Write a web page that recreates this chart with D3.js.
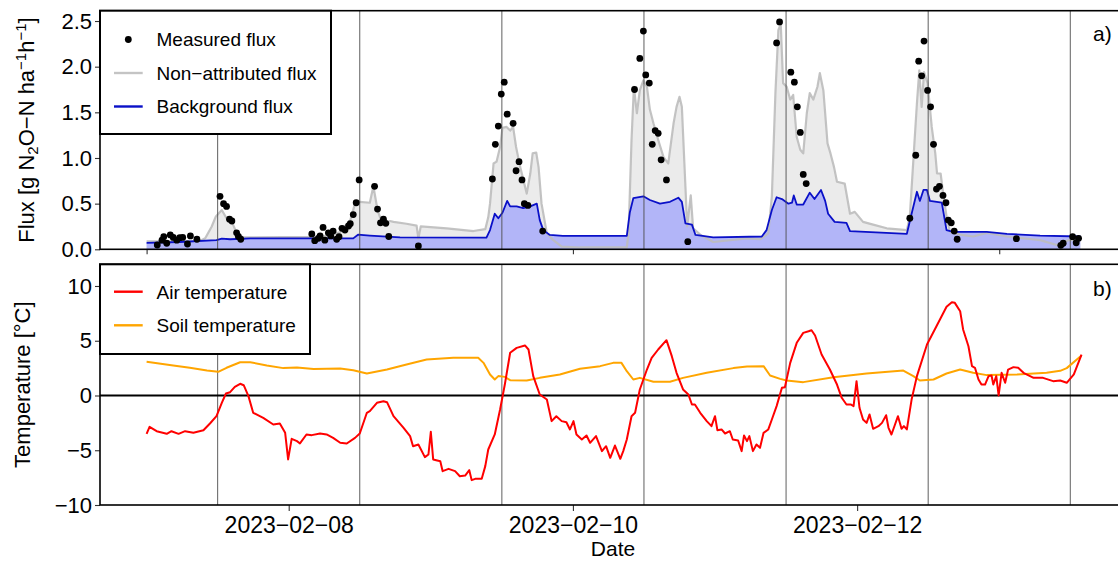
<!DOCTYPE html>
<html>
<head>
<meta charset="utf-8">
<script src="https://cdn.jsdelivr.net/npm/d3@7"></script>
<style>
  body { margin: 0; background: #fff; }
  svg { display: block; }
  text { font-family: Arial, "Liberation Sans", sans-serif; fill: #000; }
</style>
</head>
<body>
<svg id="chart" width="1118" height="562"></svg>
<script>
// Series are stored as [hours since 2023-02-07 00:00 UTC, value]
const seriesStart = Date.UTC(2023, 1, 7, 0, 0);
const hoursToDate = h => new Date(seriesStart + h * 3600e3);

const measuredFlux = [
  [1.8,0.047],[2.6,0.10],[2.9,0.138],[3.4,0.066],[4.0,0.157],[4.5,0.13],[5.1,0.10],[5.6,0.127],
  [6.1,0.13],[6.9,0.058],[7.4,0.146],[8.5,0.11],[12.4,0.58],[13.0,0.50],[13.5,0.47],[14.0,0.33],
  [14.4,0.31],[15.2,0.18],[15.5,0.14],[15.9,0.11],[27.9,0.168],[28.4,0.094],[29.0,0.12],[29.3,0.146],
  [29.8,0.24],[30.1,0.10],[30.7,0.18],[31.1,0.146],[31.5,0.20],[32.1,0.11],[32.5,0.138],[33.0,0.23],
  [33.5,0.21],[34.1,0.255],[34.4,0.28],[34.9,0.38],[35.4,0.51],[35.9,0.76],[38.5,0.69],[39.0,0.44],
  [39.5,0.29],[40.0,0.33],[40.4,0.285],[40.9,0.14],[45.9,0.036],[58.4,0.77],[58.9,1.15],[59.4,1.35],
  [59.9,1.70],[60.4,1.83],[60.9,1.48],[61.9,1.38],[62.4,0.86],[62.9,0.96],[63.4,0.76],[63.8,0.50],
  [64.4,0.48],[66.9,0.20],[82.4,1.75],[83.3,2.09],[83.9,2.39],[84.3,1.91],[84.9,1.82],[85.4,1.15],
  [85.9,1.30],[86.4,1.27],[86.9,0.98],[87.8,0.76],[91.4,0.083],[106.4,2.26],[106.9,2.49],[108.8,1.94],
  [109.4,1.83],[109.9,1.56],[110.4,1.28],[110.9,0.82],[111.4,0.72],[128.9,0.34],[129.9,1.03],[130.4,2.06],
  [130.9,1.90],[131.3,2.28],[131.9,1.74],[132.4,1.56],[132.9,1.15],[133.4,0.66],[133.9,0.69],[134.5,0.59],
  [135.0,0.51],[135.4,0.32],[135.9,0.29],[136.4,0.20],[136.9,0.11],[146.9,0.116],[154.4,0.044],[154.8,0.066],
  [156.4,0.138],[157.0,0.072],[157.4,0.12]
];

const nonAttributedFlux = [
  [0,0.088],[9.0,0.09],[9.9,0.12],[11.0,0.25],[11.7,0.36],[12.7,0.43],[13.5,0.34],[14.4,0.30],
  [15.2,0.18],[16.3,0.13],[27.6,0.135],[29.5,0.14],[31.0,0.15],[32.7,0.19],[34.4,0.32],[35.2,0.50],
  [36.0,0.52],[37.7,0.51],[38.3,0.69],[39.0,0.43],[39.7,0.30],[40.6,0.29],[41.1,0.31],[41.7,0.30],
  [43.9,0.28],[45.6,0.26],[45.9,0.12],[46.3,0.25],[50.7,0.23],[55.2,0.20],[57.2,0.22],[57.7,0.35],
  [58.0,0.50],[58.6,0.94],[59.1,0.96],[59.7,1.12],[60.1,1.33],[60.8,1.34],[61.4,1.30],[61.9,1.34],
  [62.4,1.12],[63.1,0.90],[64.2,0.61],[64.8,0.83],[65.2,1.05],[65.8,1.06],[66.2,0.90],[66.7,0.50],
  [67.6,0.175],[68.7,0.10],[70.1,0.03],[73.2,0.02],[81.1,0.02],[81.4,0.18],[81.9,1.20],[82.3,1.78],
  [82.8,1.49],[83.3,1.74],[83.9,1.85],[84.5,1.78],[85.0,1.53],[85.6,1.38],[86.4,1.20],[87.3,1.01],
  [88.1,0.94],[89.0,1.38],[89.5,1.56],[90.0,1.67],[90.4,1.56],[91.0,0.69],[91.3,0.25],[91.9,0.59],
  [92.3,0.23],[93.5,0.16],[95.7,0.08],[101.4,0.12],[103.6,0.11],[105.0,0.175],[105.6,0.58],[106.2,1.71],
  [106.7,2.40],[107.1,2.47],[107.5,1.82],[108.1,1.78],[108.7,1.64],[109.2,1.69],[109.8,1.23],[110.4,1.09],
  [110.9,1.05],[111.5,1.49],[112.0,1.71],[112.6,1.64],[113.3,1.78],[113.7,1.93],[114.3,1.74],[115.0,1.16],
  [115.5,1.05],[116.1,0.90],[116.6,0.74],[117.9,0.72],[118.8,0.39],[119.6,0.41],[121.0,0.30],[122.7,0.27],
  [125.0,0.23],[128.4,0.21],[128.9,0.36],[129.5,0.98],[130.1,1.60],[130.5,1.96],[130.9,1.56],[131.3,1.94],
  [131.9,1.82],[132.6,1.34],[133.2,1.05],[133.5,0.83],[134.1,0.83],[134.6,0.58],[135.1,0.36],[135.7,0.19],
  [137.4,0.16],[139.6,0.14],[141.9,0.18],[145.3,0.14],[150.9,0.10],[153.7,0.047],[155.7,0.10],[157.7,0.10]
];

const backgroundFlux = [
  [0,0.07],[5.6,0.08],[11.8,0.10],[12.7,0.116],[14.1,0.11],[17.5,0.12],[25.9,0.12],[34.9,0.12],
  [35.7,0.16],[37.7,0.15],[42.8,0.13],[57.4,0.127],[58.0,0.21],[58.8,0.39],[59.4,0.34],[60.1,0.40],
  [60.9,0.53],[61.4,0.47],[62.5,0.47],[63.6,0.45],[64.8,0.47],[65.9,0.50],[66.4,0.32],[67.0,0.21],
  [68.1,0.157],[70.3,0.146],[81.1,0.146],[81.6,0.40],[82.2,0.56],[83.9,0.58],[85.0,0.54],[86.7,0.50],
  [88.4,0.52],[89.8,0.565],[90.4,0.52],[91.0,0.285],[92.1,0.27],[92.7,0.157],[95.7,0.13],[103.9,0.14],
  [104.7,0.21],[105.6,0.43],[106.4,0.57],[107.3,0.55],[108.4,0.50],[109.0,0.51],[109.3,0.59],[109.8,0.49],
  [110.9,0.49],[112.0,0.62],[112.8,0.55],[113.9,0.65],[114.6,0.53],[115.1,0.39],[116.2,0.30],[118.2,0.29],
  [118.8,0.20],[128.4,0.17],[129.2,0.39],[130.1,0.63],[130.6,0.53],[131.2,0.65],[131.8,0.65],[132.3,0.53],
  [134.3,0.51],[135.1,0.21],[136.2,0.19],[141.9,0.19],[145.3,0.17],[150.9,0.15],[157.7,0.14]
];

const airTemperature = [
  [0,-3.50],[0.5,-2.86],[1.7,-3.26],[3.4,-3.50],[4.2,-3.26],[5.4,-3.50],[6.5,-3.26],[7.9,-3.41],
  [9.6,-3.17],[10.7,-2.56],[11.8,-1.89],[12.7,-0.67],[13.4,0.18],[14.1,0.30],[14.9,0.79],[15.8,1.07],
  [16.4,0.94],[17.2,-0.06],[18.0,-1.58],[19.7,-2.04],[21.4,-2.65],[22.5,-2.56],[23.4,-3.41],[23.9,-5.84],
  [24.5,-3.96],[25.4,-4.17],[25.9,-4.38],[27.0,-3.56],[27.9,-3.62],[29.3,-3.47],[30.4,-3.56],[31.5,-3.87],
  [32.7,-4.32],[33.8,-4.38],[35.2,-3.87],[36.0,-3.47],[37.2,-1.58],[37.7,-1.43],[38.9,-0.67],[40.0,-0.52],
  [40.6,-0.61],[41.7,-1.89],[43.4,-2.95],[44.5,-3.71],[45.0,-4.63],[45.9,-4.47],[47.0,-5.63],[47.6,-5.39],
  [48.0,-3.32],[48.4,-5.84],[49.6,-6.00],[50.0,-6.91],[51.0,-6.70],[52.1,-6.91],[52.9,-7.37],[53.8,-7.31],
  [54.5,-6.82],[54.9,-7.73],[55.5,-7.61],[56.6,-7.61],[57.2,-6.45],[57.7,-4.93],[58.8,-3.56],[59.7,-1.28],
  [60.5,1.00],[61.4,3.90],[62.5,4.35],[63.9,4.57],[64.5,4.20],[65.3,1.77],[66.4,0.09],[67.6,-0.37],
  [68.4,-2.34],[69.2,-1.89],[70.1,-2.34],[70.9,-2.44],[71.5,-3.10],[72.1,-2.34],[72.6,-3.56],[73.5,-4.02],
  [74.3,-3.65],[74.9,-4.32],[75.9,-3.71],[76.9,-5.08],[77.6,-4.63],[78.3,-5.69],[79.1,-4.57],[80.0,-5.78],
  [80.5,-5.08],[81.1,-4.02],[81.9,-1.89],[82.5,-1.58],[83.3,0.55],[84.5,2.37],[85.3,3.44],[86.4,4.20],
  [87.8,5.05],[88.7,3.59],[89.5,2.07],[90.6,0.55],[91.5,0.09],[92.1,-0.82],[92.6,-0.82],[93.5,-1.58],
  [94.6,-2.34],[95.4,-2.80],[96.0,-1.89],[96.4,-3.17],[97.1,-3.10],[97.7,-3.47],[98.5,-3.26],[99.0,-4.02],
  [99.9,-4.11],[100.5,-5.08],[100.9,-3.65],[101.4,-4.17],[101.8,-3.71],[102.4,-5.08],[103.0,-4.47],[103.6,-4.78],
  [104.2,-3.41],[105.0,-3.10],[105.6,-2.19],[106.4,-0.97],[107.3,0.70],[107.8,0.76],[108.7,2.98],[109.8,4.81],
  [110.9,5.72],[111.8,5.87],[112.3,5.96],[112.9,5.48],[114.0,3.74],[115.4,2.37],[116.6,1.00],[117.4,-0.21],
  [118.2,-0.82],[118.9,-0.82],[119.4,-0.97],[119.9,1.31],[120.4,-1.12],[121.0,-2.19],[121.6,-2.50],[122.1,-1.73],
  [122.7,-3.04],[123.6,-2.80],[124.2,-2.50],[124.9,-1.80],[125.3,-2.95],[125.8,-3.56],[126.4,-2.65],[126.9,-1.89],
  [127.5,-3.04],[127.9,-2.80],[128.4,-3.10],[129.2,-0.37],[130.1,1.77],[131.8,4.66],[133.4,6.33],[135.1,8.10],
  [136.0,8.52],[136.5,8.46],[137.4,7.70],[137.9,6.03],[138.8,4.50],[139.4,2.68],[139.9,2.53],[140.5,1.46],
  [141.0,1.00],[141.6,1.00],[142.2,1.77],[142.7,1.83],[143.0,1.00],[143.5,1.77],[143.9,0.0],[144.4,2.07],
  [145.0,1.16],[145.5,2.37],[146.4,2.59],[147.2,2.53],[148.1,2.07],[149.8,1.61],[151.4,1.61],[153.1,1.31],
  [154.3,1.37],[155.4,1.16],[156.6,1.92],[157.9,3.74]
];

const soilTemperature = [
  [0,3.08],[4.5,2.74],[7.3,2.53],[10.2,2.28],[12.1,2.16],[13.5,2.53],[15.8,3.04],[17.5,3.04],
  [20.3,2.74],[23.1,2.50],[25.4,2.56],[28.2,2.41],[32.7,2.47],[34.9,2.31],[37.2,2.01],[40.6,2.37],
  [43.9,2.83],[47.3,3.29],[51.8,3.44],[56.0,3.44],[56.9,2.98],[58.0,1.92],[58.8,1.46],[59.4,1.77],
  [60.5,1.70],[61.4,1.40],[64.2,1.37],[66.4,1.61],[69.8,1.92],[73.2,2.44],[76.6,2.68],[78.8,2.98],
  [80.2,2.98],[81.1,2.22],[82.2,1.46],[83.3,1.61],[85.6,1.25],[88.4,1.25],[90.6,1.61],[94.6,2.07],
  [99.1,2.50],[101.4,2.65],[104.2,2.68],[105.3,1.83],[107.0,1.52],[108.1,1.37],[110.9,1.22],[116.0,1.67],
  [121.6,2.01],[127.8,2.28],[129.5,1.77],[130.6,1.37],[132.9,1.46],[135.1,2.01],[137.4,2.37],[139.6,2.07],
  [141.9,1.86],[147.0,1.92],[152.0,2.07],[154.3,2.25],[155.4,2.50],[157.9,3.65]
];

const fluxTicks = [0, 0.5, 1.0, 1.5, 2.0, 2.5];
const tempTicks = [-10, -5, 0, 5, 10];
const topDateTicks = ["2023-02-07", "2023-02-10", "2023-02-13"];
const bottomDateTicks = ["2023-02-08", "2023-02-10", "2023-02-12"];
const noonLines = ["2023-02-07", "2023-02-08", "2023-02-09", "2023-02-10", "2023-02-11", "2023-02-12", "2023-02-13"];

const fluxLegend = ["Measured flux", "Non\u2212attributed flux", "Background flux"];
const tempLegend = ["Air temperature", "Soil temperature"];

const colors = {
  point: "#000",
  greyFill: "#ebebeb",
  greyLine: "#bdbdbd",
  blueFill: "#adb0f8",
  blueLine: "#0a10c8",
  air: "#ff0000",
  soil: "#ffa500"
};

const minus = s => String(s).replace(/-/g, "\u2212");
const parseDay = s => new Date(s + "T00:00:00Z");

const svg = d3.select("#chart");

const left = 100, right = 1126;
const topPanel = { top: 10.7, bottom: 249.3 };
const botPanel = { top: 264.3, bottom: 505 };

const x = d3.scaleUtc()
  .domain([hoursToDate(-7.87), hoursToDate(165.41)])
  .range([left, right]);

const yFlux = d3.scaleLinear().domain([0, 2.613]).range([topPanel.bottom, topPanel.top]);
const yTemp = d3.scaleLinear().domain([-10, 11.98]).range([botPanel.bottom, botPanel.top]);

const defs = svg.append("defs");
function clip(id, p) {
  defs.append("clipPath").attr("id", id)
    .append("rect").attr("x", left).attr("y", p.top)
    .attr("width", right - left).attr("height", p.bottom - p.top);
}
clip("clipTop", topPanel);
clip("clipBot", botPanel);

// ---------- Panel a: fluxes ----------
const gTop = svg.append("g").attr("clip-path", "url(#clipTop)");
const fx = d => x(hoursToDate(d[0]));

gTop.append("path").datum(nonAttributedFlux)
  .attr("fill", colors.greyFill)
  .attr("d", d3.area().x(fx).y0(yFlux(0)).y1(d => yFlux(d[1])));
gTop.append("path").datum(backgroundFlux)
  .attr("fill", colors.blueFill).attr("fill-opacity", 0.92)
  .attr("d", d3.area().x(fx).y0(yFlux(0)).y1(d => yFlux(d[1])));
gTop.append("path").datum(nonAttributedFlux)
  .attr("fill", "none").attr("stroke", colors.greyLine).attr("stroke-opacity", 0.9)
  .attr("stroke-width", 2.2).attr("stroke-linejoin", "round")
  .attr("d", d3.line().x(fx).y(d => yFlux(d[1])));
gTop.append("path").datum(backgroundFlux)
  .attr("fill", "none").attr("stroke", colors.blueLine)
  .attr("stroke-width", 1.8).attr("stroke-linejoin", "round")
  .attr("d", d3.line().x(fx).y(d => yFlux(d[1])));

// daily noon reference lines
function noonRules(g, p) {
  g.selectAll("line.noon").data(noonLines).join("line")
    .attr("class", "noon")
    .attr("x1", d => x(new Date(d + "T12:00:00Z"))).attr("x2", d => x(new Date(d + "T12:00:00Z")))
    .attr("y1", p.top).attr("y2", p.bottom)
    .attr("stroke", "#4d4d4d").attr("stroke-width", 0.9);
}
noonRules(gTop, topPanel);

gTop.selectAll("circle").data(measuredFlux).join("circle")
  .attr("cx", fx).attr("cy", d => yFlux(d[1])).attr("r", 3.4)
  .attr("fill", colors.point);

// ---------- Panel b: temperatures ----------
const gBot = svg.append("g").attr("clip-path", "url(#clipBot)");
noonRules(gBot, botPanel);
gBot.append("line")
  .attr("x1", left).attr("x2", right).attr("y1", yTemp(0)).attr("y2", yTemp(0))
  .attr("stroke", "#000").attr("stroke-width", 2.2);
gBot.append("path").datum(soilTemperature)
  .attr("fill", "none").attr("stroke", colors.soil).attr("stroke-width", 2)
  .attr("stroke-linejoin", "round")
  .attr("d", d3.line().x(fx).y(d => yTemp(d[1])));
gBot.append("path").datum(airTemperature)
  .attr("fill", "none").attr("stroke", colors.air).attr("stroke-width", 2)
  .attr("stroke-linejoin", "round")
  .attr("d", d3.line().x(fx).y(d => yTemp(d[1])));

// ---------- Axes ----------
function styleAxis(g, fontSize) {
  g.select(".domain").remove();
  g.selectAll(".tick line").attr("stroke", "#333").attr("stroke-width", 1.1);
  g.selectAll(".tick text").attr("font-size", fontSize).attr("fill", "#1a1a1a")
    .attr("font-family", "Arial, 'Liberation Sans', sans-serif");
}

svg.append("g").attr("transform", `translate(${left},0)`)
  .call(d3.axisLeft(yFlux).tickValues(fluxTicks).tickFormat(d3.format(".1f")).tickSize(5).tickPadding(3))
  .call(g => styleAxis(g, 22));

svg.append("g").attr("transform", `translate(${left},0)`)
  .call(d3.axisLeft(yTemp).tickValues(tempTicks).tickFormat(d => minus(d)).tickSize(5).tickPadding(3))
  .call(g => styleAxis(g, 22));

svg.append("g").attr("transform", `translate(0,${topPanel.bottom})`)
  .call(d3.axisBottom(x).tickValues(topDateTicks.map(parseDay)).tickFormat("").tickSize(5))
  .call(g => styleAxis(g, 22));

svg.append("g").attr("transform", `translate(0,${botPanel.bottom})`)
  .call(d3.axisBottom(x).tickValues(bottomDateTicks.map(parseDay))
    .tickFormat(d => minus(d3.utcFormat("%Y-%m-%d")(d))).tickSize(6).tickPadding(6))
  .call(g => styleAxis(g, 23));

// panel borders
[topPanel, botPanel].forEach(p => {
  svg.append("rect").attr("x", left).attr("y", p.top)
    .attr("width", right - left).attr("height", p.bottom - p.top)
    .attr("fill", "none").attr("stroke", "#000").attr("stroke-width", 1.6);
});

// ---------- Axis titles ----------
const fluxTitle = svg.append("text")
  .attr("transform", `translate(34,${(topPanel.top + topPanel.bottom) / 2}) rotate(-90)`)
  .attr("text-anchor", "middle").attr("font-size", 22);
fluxTitle.append("tspan").text("Flux [g N");
fluxTitle.append("tspan").attr("font-size", 15).attr("dy", 4).text("2");
fluxTitle.append("tspan").attr("dy", -4).text("O\u2212N ha");
fluxTitle.append("tspan").attr("font-size", 15).attr("dy", -8).text("\u22121");
fluxTitle.append("tspan").attr("dy", 8).text("h");
fluxTitle.append("tspan").attr("font-size", 15).attr("dy", -8).text("\u22121");
fluxTitle.append("tspan").attr("dy", 8).text("]");

svg.append("text")
  .attr("transform", `translate(30,${(botPanel.top + botPanel.bottom) / 2}) rotate(-90)`)
  .attr("text-anchor", "middle").attr("font-size", 22)
  .text("Temperature [\u00B0C]");

svg.append("text").attr("x", (left + right) / 2).attr("y", 556)
  .attr("text-anchor", "middle").attr("font-size", 21).text("Date");

// panel tags
svg.append("text").attr("x", 1093).attr("y", 41).attr("font-size", 21).text("a)");
svg.append("text").attr("x", 1093).attr("y", 296).attr("font-size", 21).text("b)");

// ---------- Legends ----------
function legendBox(x0, y0, w, h) {
  svg.append("rect").attr("x", x0).attr("y", y0).attr("width", w).attr("height", h)
    .attr("fill", "#fff").attr("stroke", "#000").attr("stroke-width", 2);
}

legendBox(100, 10.7, 231, 123.3);
const fluxRows = [39.5, 73, 106.5];
svg.append("circle").attr("cx", 128.3).attr("cy", fluxRows[0]).attr("r", 3.4).attr("fill", colors.point);
svg.append("line").attr("x1", 114).attr("x2", 142.7).attr("y1", fluxRows[1]).attr("y2", fluxRows[1])
  .attr("stroke", "#c4c4c4").attr("stroke-width", 2.4);
svg.append("line").attr("x1", 114).attr("x2", 142.7).attr("y1", fluxRows[2]).attr("y2", fluxRows[2])
  .attr("stroke", colors.blueLine).attr("stroke-width", 2.4);
svg.selectAll("text.fluxLeg").data(fluxLegend).join("text").attr("class", "fluxLeg")
  .attr("x", 156.5).attr("y", (d, i) => fluxRows[i]).attr("dy", "0.36em")
  .attr("font-size", 19).text(d => d);

legendBox(100, botPanel.top, 210, 89.7);
const tempRows = [291.7, 325.3];
svg.append("line").attr("x1", 114).attr("x2", 142.7).attr("y1", tempRows[0]).attr("y2", tempRows[0])
  .attr("stroke", colors.air).attr("stroke-width", 2.4);
svg.append("line").attr("x1", 114).attr("x2", 142.7).attr("y1", tempRows[1]).attr("y2", tempRows[1])
  .attr("stroke", colors.soil).attr("stroke-width", 2.4);
svg.selectAll("text.tempLeg").data(tempLegend).join("text").attr("class", "tempLeg")
  .attr("x", 156.5).attr("y", (d, i) => tempRows[i]).attr("dy", "0.36em")
  .attr("font-size", 19).text(d => d);
</script>
</body>
</html>
